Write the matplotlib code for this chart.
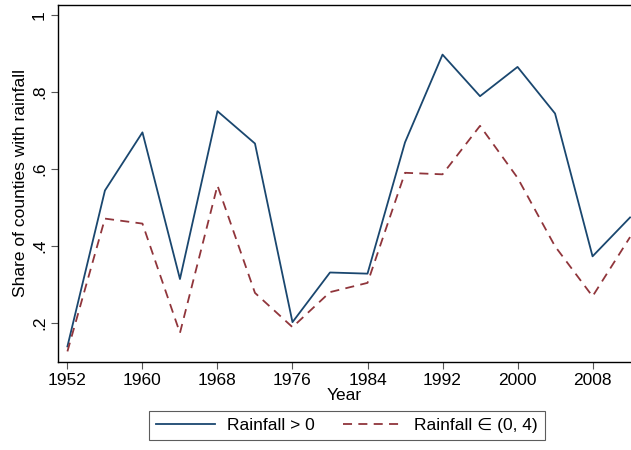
import matplotlib
matplotlib.use("Agg")
import matplotlib.pyplot as plt

plt.rcParams['font.family'] = ['Liberation Sans', 'DejaVu Sans']

years = [1952, 1956, 1960, 1964, 1968, 1972, 1976, 1980,
         1984, 1988, 1992, 1996, 2000, 2004, 2008, 2012]
share_any = [0.139, 0.544, 0.695, 0.314, 0.750, 0.666, 0.202, 0.331,
             0.328, 0.669, 0.897, 0.789, 0.865, 0.744, 0.373, 0.474]
share_0_4 = [0.126, 0.471, 0.458, 0.174, 0.557, 0.278, 0.189, 0.280,
             0.304, 0.590, 0.586, 0.712, 0.577, 0.399, 0.269, 0.423]

xticks = list(range(1952, 2013, 8))
yticks = [0.2, 0.4, 0.6, 0.8, 1.0]
ytick_labels = ['.2', '.4', '.6', '.8', '1']

NAVY = '#1a476f'
MAROON = '#90353b'
FS = 12.5

fig = plt.figure(figsize=(6.31, 4.5), dpi=100)
ax = fig.add_axes([0.092, 0.196, 0.908, 0.793])

ax.plot(years, share_any, color=NAVY, lw=1.3, label='Rainfall > 0')
ax.plot(years, share_0_4, color=MAROON, lw=1.3, dashes=(5, 3.5),
        label='Rainfall \u2208 (0, 4)')

ax.set_xlim(1951, 2012.1)
ax.set_ylim(0.099, 1.026)
ax.set_xticks(xticks)
ax.set_yticks(yticks)
ax.set_yticklabels(ytick_labels, rotation=90, va='center')
ax.tick_params(labelsize=FS, length=5, width=0.8, color='#555555', pad=3)
ax.set_xlabel('Year', fontsize=FS, labelpad=0)
ax.set_ylabel('Share of counties with rainfall', fontsize=FS, labelpad=3)

for side in ('left', 'bottom', 'top'):
    ax.spines[side].set_linewidth(1.0)
ax.spines['right'].set_visible(False)

leg = fig.legend(loc='lower center', bbox_to_anchor=(0.55, 0.003), ncol=2,
                 fontsize=FS, frameon=True, fancybox=False,
                 edgecolor='#333333', handlelength=3.4, handletextpad=0.7,
                 columnspacing=1.6, borderpad=0.4)
leg.get_frame().set_linewidth(0.8)

fig.savefig('out.png', dpi=100)
